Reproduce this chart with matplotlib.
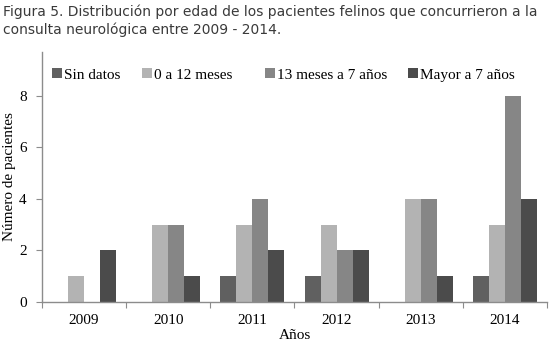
import matplotlib
matplotlib.use("Agg")
import matplotlib.pyplot as plt
from matplotlib.legend import Legend
import numpy as np

years = ["2009", "2010", "2011", "2012", "2013", "2014"]
series_names = ["Sin datos", "0 a 12 meses", "13 meses a 7 años", "Mayor a 7 años"]
sin_datos = [0, 0, 1, 1, 0, 1]
meses_0_12 = [1, 3, 3, 3, 4, 3]
meses_13_7 = [0, 3, 4, 2, 4, 8]
mayor_7 = [2, 1, 2, 2, 1, 4]
colors = ["#606060", "#b3b3b3", "#868686", "#4b4b4b"]

fig = plt.figure(figsize=(5.55, 3.48), dpi=100)
ax = fig.add_axes([42/555, 1-302/348, 505/555, 250/348])

x = np.arange(len(years))
w = 0.19
data = [sin_datos, meses_0_12, meses_13_7, mayor_7]
bars = []
for i, (vals, name, c) in enumerate(zip(data, series_names, colors)):
    b = ax.bar(x + (i - 1.5) * w, vals, w, color=c, label=name, linewidth=0)
    bars.append(b)

ax.set_xlim(-0.5, len(years) - 0.5)
ax.set_ylim(0, 9.7)
ax.set_yticks([0, 2, 4, 6, 8])
ax.set_xticks(np.arange(-0.5, len(years)), minor=False)
ax.set_xticklabels([])
ax.set_xticks(x, minor=True)
ax.set_xticklabels(years, minor=True)
ax.tick_params(axis='x', which='minor', length=0, pad=9)
ax.tick_params(axis='x', which='major', length=4, color="#8c8c8c", direction='out')
ax.tick_params(axis='y', length=4, color="#8c8c8c", direction='out', pad=7)
for lab in ax.get_xticklabels(minor=True) + ax.get_yticklabels():
    lab.set_fontfamily("Liberation Serif")
    lab.set_fontsize(11)
for s in ["top", "right"]:
    ax.spines[s].set_visible(False)
for s in ["left", "bottom"]:
    ax.spines[s].set_color("#8c8c8c")
    ax.spines[s].set_linewidth(1)

ax.set_ylabel("Número de pacientes", family="Liberation Serif", fontsize=11)
ax.yaxis.set_label_coords(-0.052, 0.5)
ax.set_xlabel("Años", family="Liberation Serif", fontsize=11, labelpad=1)

# legend entries placed individually (Excel-style spacing)
leg_x = [52, 142, 265, 408]
for bx, b, name in zip(leg_x, bars, series_names):
    lg = Legend(ax, [b], [name], loc="center left",
                bbox_to_anchor=((bx - 42) / 505, (302 - 75) / 250),
                frameon=False, prop={"family": "Liberation Serif", "size": 11},
                handlelength=0.65, handleheight=0.65, handletextpad=0.15,
                borderpad=0, borderaxespad=0)
    ax.add_artist(lg)

fig.text(3/555, 1-21/348, "Figura 5. Distribución por edad de los pacientes felinos que concurrieron a la\nconsulta neurológica entre 2009 - 2014.",
         family="DejaVu Sans", fontsize=10, color="#3a3a3a", va="center", ha="left", linespacing=1.3)

fig.savefig("out.png", dpi=100)
